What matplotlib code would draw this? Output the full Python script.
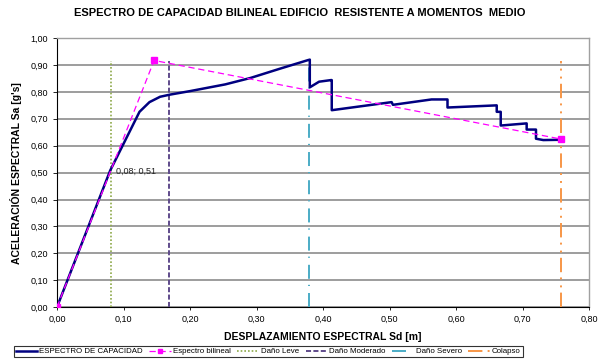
import matplotlib
matplotlib.use("Agg")
import matplotlib.pyplot as plt
from matplotlib.ticker import FuncFormatter

plt.rcParams['font.family'] = ['Liberation Sans', 'DejaVu Sans']

# Capacity curve
cap_x = [0.0, 0.080, 0.124, 0.139, 0.155, 0.170, 0.200, 0.253, 0.291, 0.336, 0.377, 0.380, 0.380,
         0.394, 0.412, 0.413, 0.413, 0.503, 0.505, 0.563, 0.587, 0.587, 0.661, 0.661, 0.667,
         0.667, 0.706, 0.706, 0.720, 0.720, 0.731, 0.756]
cap_y = [0.0, 0.508, 0.726, 0.762, 0.782, 0.790, 0.803, 0.828, 0.852, 0.887, 0.918, 0.920, 0.817,
         0.838, 0.844, 0.844, 0.732, 0.762, 0.752, 0.772, 0.772, 0.742, 0.750, 0.726, 0.726,
         0.675, 0.683, 0.660, 0.660, 0.626, 0.621, 0.622]

# Bilinear spectrum
bil_x = [0.0, 0.146, 0.757]
bil_y = [0.0, 0.917, 0.625]

# Damage limits
leve_x = 0.0815
moder_x = 0.169
severo_x = 0.379
colapso_x = 0.757
lim_top = 0.915

xticks = [0.0, 0.1, 0.2, 0.3, 0.4, 0.5, 0.6, 0.7, 0.8]
yticks = [0.0, 0.1, 0.2, 0.3, 0.4, 0.5, 0.6, 0.7, 0.8, 0.9, 1.0]

fig = plt.figure(figsize=(6.0, 3.63), dpi=100)
ax = fig.add_axes([0.095, 0.154, 0.887, 0.741])

ax.plot(cap_x, cap_y, color='#000080', lw=1.8, label='ESPECTRO DE CAPACIDAD', zorder=5)
ax.plot(bil_x, bil_y, color='#FF00FF', lw=0.9, ls=(0, (5, 3)), marker='s', ms=4,
        label='Espectro bilineal', zorder=6)
ax.plot([leve_x, leve_x], [0, lim_top], color='#8DA94A', lw=1.2, ls=(0, (1, 1.2)), label='Daño Leve', zorder=4)
ax.plot([moder_x, moder_x], [0, lim_top], color='#5F4B8B', lw=1.4, ls=(0, (2.6, 1.2)), label='Daño Moderado', zorder=4)
ax.plot([severo_x, severo_x], [0, lim_top], color='#4BACC6', lw=1.4, ls=(0, (7.2, 3.6, 0.6, 3.1)), label='Daño Severo', zorder=4)
ax.plot([colapso_x, colapso_x], [0, lim_top], color='#F79646', lw=1.4, ls=(0, (7.4, 2.7, 1.0, 3.1, 1.0, 2.7)), label='Colapso', zorder=4)

ax.annotate('0,08; 0,51', xy=(0.08, 0.51), xytext=(4, -1), textcoords='offset points',
            fontsize=6.5, va='center', ha='left', color='#222222')

ax.set_xlim(0, 0.8)
ax.set_ylim(0, 1.0)
ax.set_xticks(xticks)
ax.set_yticks(yticks)
fmt = FuncFormatter(lambda v, p: f"{v:.2f}".replace('.', ','))
ax.xaxis.set_major_formatter(fmt)
ax.yaxis.set_major_formatter(fmt)
ax.tick_params(labelsize=6.5, length=3, width=0.6, colors='#000000')
ax.tick_params(axis='x', length=2)
ax.yaxis.grid(True, color='#8C8C8C', lw=1.2)
ax.set_axisbelow(True)
for s in ['top', 'right']:
    ax.spines[s].set_color('#A0A0A0')
    ax.spines[s].set_linewidth(1.0)
for s in ['left', 'bottom']:
    ax.spines[s].set_color('#000000')
    ax.spines[s].set_linewidth(0.8)

ax.set_xlabel('DESPLAZAMIENTO ESPECTRAL Sd [m]', fontsize=7.5, fontweight='bold', labelpad=6)
ax.set_ylabel("ACELERACIÓN ESPECTRAL Sa [g's]", fontsize=7.5, fontweight='bold', labelpad=6)
fig.text(0.5, 0.965, 'ESPECTRO DE CAPACIDAD BILINEAL EDIFICIO  RESISTENTE A MOMENTOS  MEDIO',
         ha='center', va='center', fontsize=8, fontweight='bold')

leg = fig.legend(loc='center', bbox_to_anchor=(0.447, 0.0315), ncol=6, fontsize=5.7,
                 frameon=True, fancybox=False, edgecolor='#000000', handlelength=2.7,
                 handletextpad=0.3, columnspacing=0.8, borderpad=0.25, borderaxespad=0,
                 markerscale=0.8)
leg.get_frame().set_linewidth(0.8)

fig.savefig('out.png', dpi=100)
